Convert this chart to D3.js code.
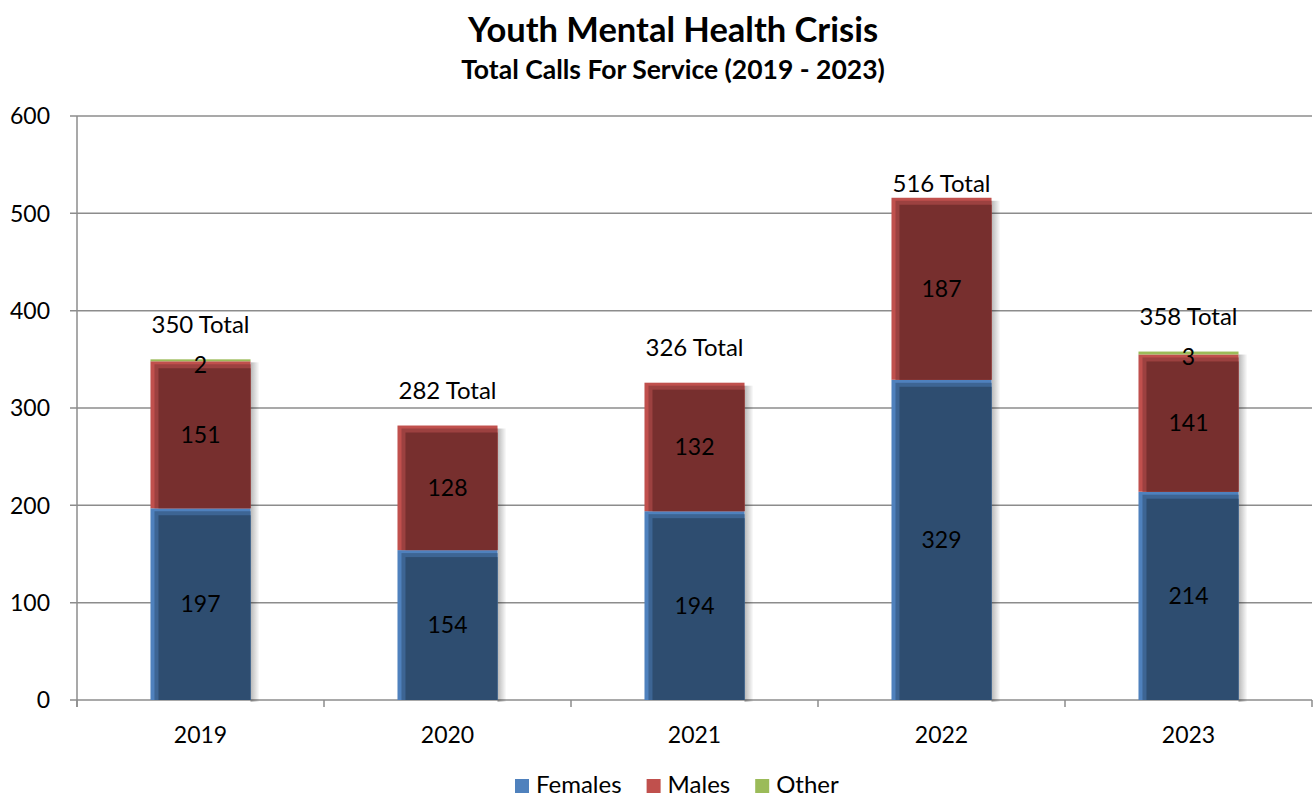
<!DOCTYPE html>
<html>
<script src="https://cdn.jsdelivr.net/npm/d3@7/dist/d3.min.js"></script>
<style>
  body, html { margin: 0; padding: 0; background: #fff; }
  svg { display: block; }
  text { font-family: Lato, "Open Sans", sans-serif; fill: #000; }
</style>
<body>
<svg width="1315" height="798"></svg>
<script>

  var years = ['2019', '2020', '2021', '2022', '2023'];
  var females = [197, 154, 194, 329, 214];
  var males = [151, 128, 132, 187, 141];
  var other = [2, 0, 0, 0, 3];
  var yTicks = [0, 100, 200, 300, 400, 500, 600];

  var seriesNames = ['Females', 'Males', 'Other'];
  var light = ['#4F81BD', '#C0504D', '#9BBB59'];
  var mid = ['#3D6594', '#9C4140', '#9BBB59'];
  var dark = ['#2E4D70', '#772F2E', '#9BBB59'];

  var rows = years.map(function (y, i) {
    return { year: y, Females: females[i], Males: males[i], Other: other[i],
             total: females[i] + males[i] + other[i] };
  });

  var svg = d3.select('svg');
  var margin = { left: 77, right: 3, top: 116, bottom: 98 };
  var width = 1315 - margin.left - margin.right;
  var height = 798 - margin.top - margin.bottom;

  var x = d3.scaleBand().domain(years).range([0, width]).paddingInner(0.595).paddingOuter(0.2975);
  var y = d3.scaleLinear().domain([0, 600]).range([height, 0]);

  var g = svg.append('g').attr('transform', 'translate(' + margin.left + ',' + margin.top + ')');

  // gridlines
  g.selectAll('.grid').data(yTicks).enter().append('line')
    .attr('x1', -7).attr('x2', width)
    .attr('y1', function (d) { return y(d); }).attr('y2', function (d) { return y(d); })
    .attr('stroke', '#8c8c8c').attr('stroke-width', 1.5);

  // y axis labels
  g.selectAll('.ylab').data(yTicks).enter().append('text')
    .attr('x', -27).attr('y', function (d) { return y(d); })
    .attr('dy', '0.36em').attr('text-anchor', 'end')
    .style('font-size', '23px').text(function (d) { return d; });

  g.append('line').attr('x1', 0).attr('x2', 0).attr('y1', 0).attr('y2', height + 7)
    .attr('stroke', '#8c8c8c').attr('stroke-width', 1.5);

  // x ticks at band boundaries
  var step = x.step();
  g.selectAll('.xtick').data(d3.range(years.length + 1)).enter().append('line')
    .attr('x1', function (i) { return i * step; }).attr('x2', function (i) { return i * step; })
    .attr('y1', height).attr('y2', height + 7)
    .attr('stroke', '#8c8c8c').attr('stroke-width', 1.5);

  g.selectAll('.xlab').data(years).enter().append('text')
    .attr('x', function (d) { return x(d) + x.bandwidth() / 2; })
    .attr('y', height + 35).attr('dy', '0.36em').attr('text-anchor', 'middle')
    .style('font-size', '23px').text(function (d) { return d; });

  // shadow gradient
  var defs = svg.append('defs');
  var sg = defs.append('linearGradient').attr('id', 'shadow');
  sg.append('stop').attr('offset', '0%').attr('stop-color', '#000').attr('stop-opacity', 0.28);
  sg.append('stop').attr('offset', '100%').attr('stop-color', '#000').attr('stop-opacity', 0);

  var stack = d3.stack().keys(seriesNames)(rows);

  // shadows behind bars
  g.selectAll('.shadow').data(rows).enter().append('rect')
    .attr('x', function (d) { return x(d.year) + x.bandwidth(); })
    .attr('y', function (d) { return y(d.total) + 3; })
    .attr('width', 9)
    .attr('height', function (d) { return y(0) - y(d.total) - 1; })
    .attr('fill', 'url(#shadow)');

  stack.forEach(function (layer, si) {
    var lg = g.append('g');
    var segs = lg.selectAll('g').data(layer.filter(function (d) { return d[1] > d[0]; }))
      .enter().append('g');
    var bw = x.bandwidth();
    segs.append('rect')
      .attr('x', function (d) { return x(d.data.year); })
      .attr('y', function (d) { return y(d[1]); })
      .attr('width', bw)
      .attr('height', function (d) { return y(d[0]) - y(d[1]); })
      .attr('fill', light[si]);
    if (si < 2) {
      segs.append('rect')
        .attr('x', function (d) { return x(d.data.year) + 4; })
        .attr('y', function (d) { return y(d[1]) + 3; })
        .attr('width', bw - 4)
        .attr('height', function (d) { return y(d[0]) - y(d[1]) - 3; })
        .attr('fill', mid[si]);
      segs.append('rect')
        .attr('x', function (d) { return x(d.data.year) + 8; })
        .attr('y', function (d) { return y(d[1]) + 7; })
        .attr('width', bw - 8)
        .attr('height', function (d) { return y(d[0]) - y(d[1]) - 7; })
        .attr('fill', dark[si]);
    }
    segs.append('text')
      .attr('x', function (d) { return x(d.data.year) + bw / 2; })
      .attr('y', function (d) { return (y(d[0]) + y(d[1])) / 2 + (si === 2 ? 4 : 0); })
      .attr('dy', '0.36em').attr('text-anchor', 'middle')
      .style('font-size', '23px')
      .text(function (d) { return d[1] - d[0]; });
  });

  // total labels
  g.selectAll('.total').data(rows).enter().append('text')
    .attr('x', function (d) { return x(d.year) + x.bandwidth() / 2; })
    .attr('y', function (d) { return y(d.total) - (d.year === '2022' ? 14 : 35); })
    .attr('dy', '0.36em').attr('text-anchor', 'middle')
    .style('font-size', '24px')
    .text(function (d) { return d.total + ' Total'; });

  // titles
  svg.append('text').attr('x', 673).attr('y', 42).attr('text-anchor', 'middle')
    .style('font-size', '34.5px').style('font-weight', 'bold').text('Youth Mental Health Crisis');
  svg.append('text').attr('x', 673).attr('y', 79).attr('text-anchor', 'middle')
    .style('font-size', '26.5px').style('font-weight', 'bold').text('Total Calls For Service (2019 - 2023)');

  // legend
  var legend = svg.append('g').attr('transform', 'translate(515,784)');
  var lx = 0;
  seriesNames.forEach(function (name, i) {
    var item = legend.append('g').attr('transform', 'translate(' + lx + ',0)');
    item.append('rect').attr('x', 0).attr('y', -5).attr('width', 14).attr('height', 14).attr('fill', light[i]);
    var t = item.append('text').attr('x', 21).attr('y', 0).attr('dy', '0.36em')
      .style('font-size', '24px').text(name);
    lx += 21 + t.node().getComputedTextLength() + 25;
  });

</script>
</body>
</html>
